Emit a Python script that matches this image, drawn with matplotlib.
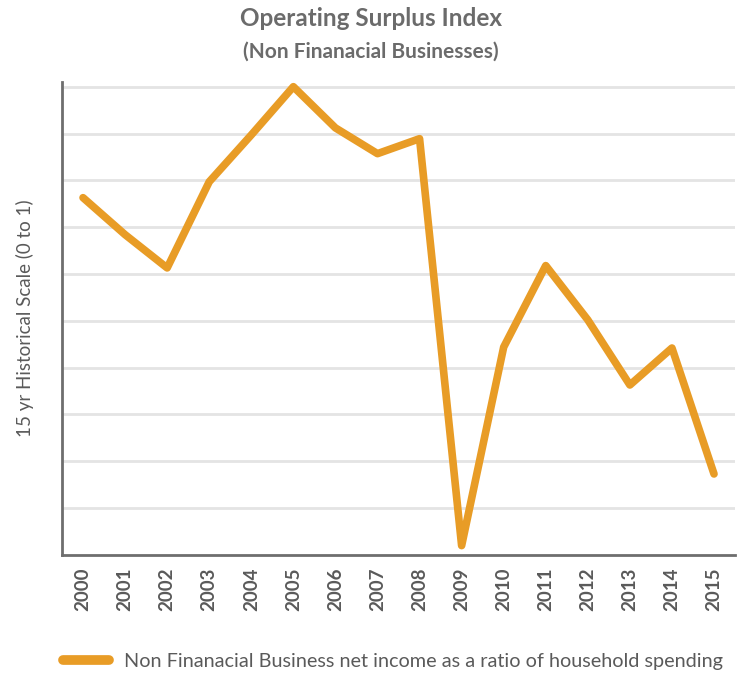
import matplotlib
matplotlib.use("Agg")
import matplotlib.pyplot as plt
from matplotlib.lines import Line2D

years = ["2000", "2001", "2002", "2003", "2004", "2005", "2006", "2007",
         "2008", "2009", "2010", "2011", "2012", "2013", "2014", "2015"]
index_values = [0.763, 0.684, 0.613, 0.797, 0.897, 1.0, 0.912, 0.857,
                0.889, 0.02, 0.444, 0.618, 0.502, 0.363, 0.442, 0.173]

plt.rcParams['font.family'] = ['Lato', 'DejaVu Sans']

fig = plt.figure(figsize=(7.47, 6.75), dpi=100)
ax = fig.add_axes([0.083, 0.1778, 0.901, 0.7007])

line_color = "#E89C26"
text_gray = "#6b6b6b"

x = list(range(len(years)))
ax.plot(x, index_values, color=line_color, linewidth=5.5,
        solid_joinstyle='round', solid_capstyle='round', zorder=3)

ax.set_xlim(-0.5, len(years) - 0.5)
ax.set_ylim(0, 1.01)
ax.set_yticks([i / 10 for i in range(1, 11)])
ax.set_yticklabels([])
ax.tick_params(axis='y', length=0)
ax.grid(axis='y', color="#e4e4e4", linewidth=2)
ax.set_axisbelow(True)

ax.set_xticks(x)
ax.set_xticklabels(years, rotation=90, fontsize=13.5, fontweight='bold',
                   color="#5a5a5a")
ax.tick_params(axis='x', length=0, pad=9)

for s in ['top', 'right']:
    ax.spines[s].set_visible(False)
for s in ['left', 'bottom']:
    ax.spines[s].set_color("#6e6e6e")
    ax.spines[s].set_linewidth(2)

ax.set_ylabel("15 yr Historical Scale (0 to 1)", fontsize=13.5,
              color="#5a5a5a", labelpad=17)

fig.text(0.497, 0.972, "Operating Surplus Index", ha='center', va='center',
         fontsize=17.5, fontweight='bold', color=text_gray)
fig.text(0.497, 0.923, "(Non Finanacial Businesses)", ha='center',
         va='center', fontsize=15, fontweight='bold', color=text_gray)

handle = Line2D([0], [0], color=line_color, linewidth=7,
                solid_capstyle='round')
fig.legend([handle], ["Non Finanacial Business net income as a ratio of household spending"],
           loc='center left', bbox_to_anchor=(0.074, 0.02), frameon=False,
           fontsize=14.3, labelcolor="#5a5a5a", handlelength=2.3,
           handletextpad=0.75, borderaxespad=0)

fig.savefig("out.png", dpi=100)
